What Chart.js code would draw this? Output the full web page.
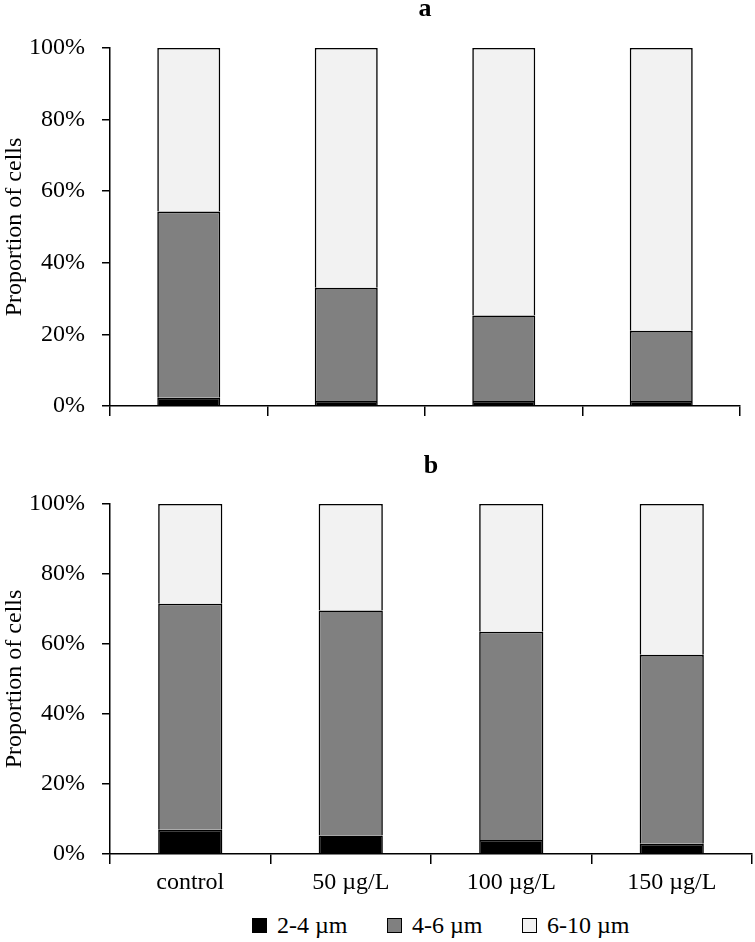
<!DOCTYPE html>
<html>
<head>
<meta charset="utf-8">
<script src="https://cdn.jsdelivr.net/npm/chart.js@4.4.0/dist/chart.umd.min.js"></script>
<style>
  html, body { margin: 0; padding: 0; background: #fff; overflow: hidden; }
  body { width: 755px; height: 942px; position: relative; font-family: "Liberation Serif", serif; }
  canvas { position: absolute; left: 0; }
  #chartA { top: 0; }
  #chartB { top: 440px; }
  #legend { position: absolute; left: 252px; top: 910px; display: flex; font-size: 24px; line-height: 30px; color: #000; }
  #legend .item { display: flex; align-items: center; }
  #legend .box { width: 15px; height: 15px; box-sizing: border-box; border: 1.5px solid #000; margin-right: 10px; }
</style>
</head>
<body>
<canvas id="chartA" width="755" height="440"></canvas>
<canvas id="chartB" width="755" height="460"></canvas>
<div id="legend"></div>
<script>
// Data (percent of cells)
const categories = ['control', '50 µg/L', '100 µg/L', '150 µg/L'];
const seriesNames = ['2-4 µm', '4-6 µm', '6-10 µm'];
const seriesColors = ['#000000', '#808080', '#f2f2f2'];

const a_2_4 = [2.3, 1.4, 1.4, 1.4];
const a_4_6 = [52.0, 31.6, 23.9, 19.6];
const a_6_10 = [45.7, 67.0, 74.7, 79.0];

const b_2_4 = [6.9, 5.3, 4.0, 2.9];
const b_4_6 = [64.6, 64.3, 59.5, 54.0];
const b_6_10 = [28.5, 30.4, 36.5, 43.1];

const yTicks = [0, 20, 40, 60, 80, 100];

Chart.defaults.font.family = "'Liberation Serif', 'Times New Roman', serif";
Chart.defaults.font.size = 24;
Chart.defaults.color = '#000';

function makeDatasets(values) {
    return values.map((v, i) => ({
        label: seriesNames[i],
        data: v,
        backgroundColor: seriesColors[i],
        borderColor: '#000',
        borderWidth: 1.6,
        categoryPercentage: 1.0,
        barPercentage: 0.4
    }));
}

function makeChart(id, title, values, opts) {
    return new Chart(document.getElementById(id), {
        type: 'bar',
        data: {
            labels: categories,
            datasets: makeDatasets(values)
        },
        options: {
            responsive: false,
            animation: false,
            devicePixelRatio: 1,
            layout: { padding: { left: 0, right: opts.padRight, top: 0, bottom: 0 } },
            plugins: {
                legend: { display: false },
                tooltip: { enabled: false },
                title: {
                    display: true,
                    text: title,
                    fullSize: false,
                    font: { size: 26, weight: 'bold', lineHeight: 1 },
                    color: '#000',
                    padding: opts.titlePad
                }
            },
            scales: {
                x: {
                    stacked: true,
                    grid: { offset: true, drawOnChartArea: false, drawTicks: true, tickLength: 10, color: '#000', lineWidth: 1.5 },
                    border: { color: '#000', width: 1.5 },
                    ticks: { display: opts.showLabels, padding: 4, maxRotation: 0 },
                    afterFit: s => { s.height = opts.xHeight; }
                },
                y: {
                    stacked: true,
                    min: 0,
                    max: 100,
                    afterBuildTicks: s => { s.ticks = yTicks.map(v => ({ value: v })); },
                    ticks: { padding: 17, callback: v => v + '%' },
                    grid: { drawOnChartArea: false, drawTicks: true, tickLength: 8, color: '#000', lineWidth: 1.5 },
                    border: { color: '#000', width: 1.5 },
                    title: { display: true, text: 'Proportion of cells', padding: 0 },
                    afterFit: s => { s.width = 110; }
                }
            }
        }
    });
}

makeChart('chartA', 'a', [a_2_4, a_4_6, a_6_10], {
    padRight: 15, titlePad: { top: -4, bottom: 26 }, xHeight: 34, showLabels: false
});
makeChart('chartB', 'b', [b_2_4, b_4_6, b_6_10], {
    padRight: 3, titlePad: { top: 13, bottom: 25 }, xHeight: 46, showLabels: true
});

// legend
const legend = document.getElementById('legend');
const itemWidths = [135, 135, null];
seriesNames.forEach((name, i) => {
    const item = document.createElement('div');
    item.className = 'item';
    if (itemWidths[i]) item.style.width = itemWidths[i] + 'px';
    const box = document.createElement('span');
    box.className = 'box';
    box.style.background = seriesColors[i];
    const txt = document.createElement('span');
    txt.textContent = name;
    item.appendChild(box);
    item.appendChild(txt);
    legend.appendChild(item);
});
</script>
</body>
</html>
